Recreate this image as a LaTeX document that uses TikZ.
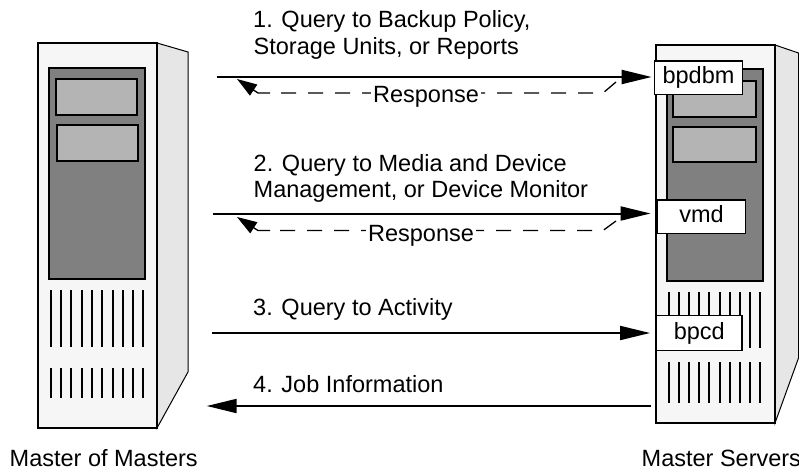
\documentclass[tikz,border=0pt]{standalone}
\usepackage{fontspec}
\setmainfont{Liberation Sans}
\usetikzlibrary{arrows.meta}
\definecolor{casefront}{HTML}{F6F6F6}
\definecolor{caseside}{HTML}{E6E6E6}
\definecolor{panel}{HTML}{808080}
\definecolor{bay}{HTML}{B4B4B4}

\begin{document}
\begin{tikzpicture}[x=1pt,y=-1pt,
  font=\fontsize{23.5}{27}\selectfont,
  sideface/.style={fill=caseside,draw=black,line width=1pt},
  frontface/.style={fill=casefront,draw=black,line width=1.6pt},
  panelface/.style={fill=panel,draw=black,line width=1.6pt},
  bayface/.style={fill=bay,draw=black,line width=1.6pt},
  vent/.style={draw=black,line width=2pt},
  daemon/.style={draw=black,fill=white,line width=1.2pt,inner sep=0pt,
    text height=17pt,text depth=5pt},
  caption/.style={anchor=base west,inner sep=0pt},
  req/.style={draw=black,line width=2pt,-{Triangle[length=30pt,width=14pt]}},
  resp/.style={draw=black,line width=1.3pt,dash pattern=on 15pt off 12pt},
  resptip/.style={draw=black,line width=1.3pt,-{Triangle[length=20pt,width=13pt]}},
  resplabel/.style={anchor=base,fill=white,inner xsep=2pt,inner ysep=1pt}]
\useasboundingbox (0,0) rectangle (799,470);

% ---- Master of Masters tower ----
\path[sideface] (157,43) -- (188,52) -- (188,372) -- (157,428) -- cycle;
\path[frontface] (38,43) rectangle (157,428);
\path[panelface] (49,68) rectangle (145,279);
\path[bayface] (55.7,79) rectangle (137,115);
\path[bayface] (56.7,125) rectangle (138,161);
\foreach \i in {0,...,9} {
  \draw[vent] ({50.7+\i*10.3},290) -- ({50.7+\i*10.3},347);
  \draw[vent] ({50.7+\i*10.3},368) -- ({50.7+\i*10.3},398);
}

% ---- Master Servers tower ----
\path[sideface] (775,45) -- (798.5,53) -- (798.5,358) -- (775,423) -- cycle;
\path[frontface] (656,45) rectangle (775,423);
\path[panelface] (667,69) rectangle (763,281);
\path[bayface] (673,81) rectangle (756,117);
\path[bayface] (673,127) rectangle (756,162);
\foreach \i in {0,...,9} {
  \draw[vent] ({669+\i*10.1},292) -- ({669+\i*10.1},348);
  \draw[vent] ({669+\i*10.1},362) -- ({669+\i*10.1},403);
}

% ---- daemons on the master servers ----
\node[daemon,minimum width=88.5pt,minimum height=33.3pt] (bpdbm) at (698.5,77.7) {bpdbm};
\node[daemon,minimum width=88.7pt,minimum height=33.3pt] (vmd) at (701.5,216.7) {vmd};
\node[daemon,minimum width=85.3pt,minimum height=35.3pt] (bpcd) at (699.3,333) {bpcd};

% ---- connector end points ----
\coordinate (q1) at (216.7,77);
\coordinate (q2) at (213,213.5);
\coordinate (q3) at (212,333);
\coordinate (j4) at (651,406);
\coordinate (m4) at (206.7,406);
\coordinate (r1a) at (616,82);
\coordinate (r1b) at (603,93);
\coordinate (r1c) at (270,93);
\coordinate (r1d) at (258,93);
\coordinate (r1e) at (237,79);
\coordinate (r2a) at (616,221);
\coordinate (r2b) at (603,230.5);
\coordinate (r2c) at (270,230.5);
\coordinate (r2d) at (258,230.5);
\coordinate (r2e) at (237,217);

% ---- requests ----
\draw[req,shorten >=2pt] (q1) -- (q1 -| bpdbm.west);
\draw[req,shorten >=6pt] (q2) -- (q2 -| vmd.west);
\draw[req,shorten >=6pt] (q3) -- (q3 -| bpcd.west);
\draw[req] (j4) -- (m4);

% ---- responses ----
\draw[resp] (r1a) -- (r1b) -- (r1c);
\draw[resptip] (r1c) -- (r1d) -- (r1e);
\draw[resp] (r2a) -- (r2b) -- (r2c);
\draw[resptip] (r2c) -- (r2d) -- (r2e);
\node[resplabel] (resp1) at (426,103) {Response};
\node[resplabel] (resp2) at (421,241) {Response};

% ---- message labels ----
\node[caption] (t1a) at (253,28) {1. Query to Backup Policy,};
\node[caption] (t1b) at (253.5,55) {Storage Units, or Reports};
\node[caption] (t2a) at (253.5,171.5) {2. Query to Media and Device};
\node[caption] (t2b) at (253.5,198) {Management, or Device Monitor};
\node[caption] (t3) at (253,315) {3. Query to Activity};
\node[caption] (t4) at (253,392) {4. Job Information};

% ---- host names ----
\node[caption] (mom) at (9.5,466) {Master of Masters};
\node[caption] (ms) at (641.5,466) {Master Servers};
\end{tikzpicture}
\end{document}
